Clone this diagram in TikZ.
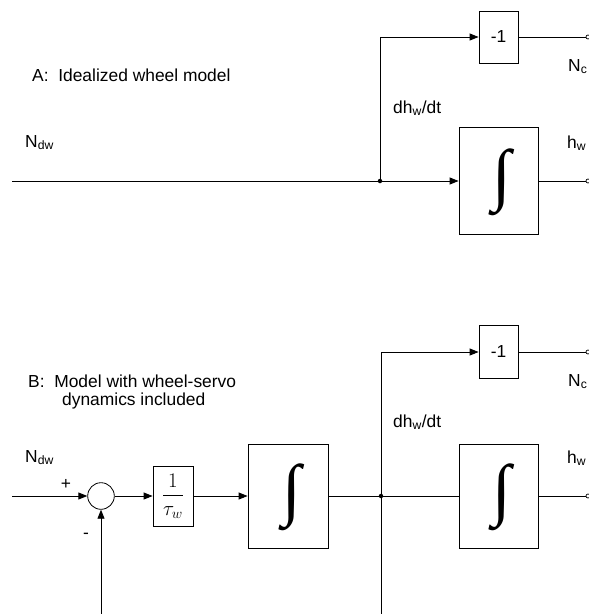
\documentclass[tikz,border=0pt]{standalone}
\usepackage{amsmath}
\usepackage{fontspec}
\setmainfont{Liberation Sans}
\newfontfamily\serifint{Liberation Serif}
\usetikzlibrary{arrows.meta}
\newcommand{\lsub}[1]{\textsubscript{#1}}
\newcommand{\intsym}{\resizebox*{!}{67pt}{\serifint ∫}}
\begin{document}
\begin{tikzpicture}[x=1pt,y=-1pt,
  every node/.style={font=\fontsize{17.4}{18}\selectfont},
  wire/.style={line width=0.9pt, draw=black},
  arr/.style={wire,-{Triangle[length=9pt,width=7pt]}},
  blockbox/.style={draw, line width=0.8pt, inner sep=0pt},
  dotnode/.style={circle, fill, inner sep=0pt, minimum size=4.5pt},
  portnode/.style={circle, draw, inner sep=0pt, minimum size=4pt, line width=0.7pt},
  sumnode/.style={circle, draw, inner sep=0pt, minimum size=26.6pt, line width=0.8pt},
  lbl/.style={anchor=base west, inner sep=0pt},
  intbox/.style={blockbox, text depth=0pt}
]
\useasboundingbox (0,0) rectangle (589,614);

% ---------- A ----------
\coordinate (inA) at (12,181);
\node[dotnode] (jA) at (380,181) {};
\node[intbox, minimum width=79pt, minimum height=107pt] (intA) at (498.5,181) {};
\node[inner sep=0pt] (intAs) at (502,497-315) {\intsym};
\node[blockbox, minimum width=39pt, minimum height=52pt] (negA) at (498.5,37) {-1};
\node[portnode] (ncA) at (588,37) {};
\node[portnode] (hwA) at (588,181) {};

\draw[wire] (inA) -- (jA);
\draw[arr] (jA) -- (intA.west);
\draw[arr] (jA) |- (negA.west);
\draw[wire] (negA.east) -- (ncA);
\draw[wire] (intA.east) -- (hwA);

\node[lbl] (titleA) at (32,81) {A:\ \ Idealized wheel model};
\node[lbl] (ndwA) at (25,147) {N\lsub{dw}};
\node[lbl] (dhA) at (393,113) {dh\lsub{w}/dt};
\node[lbl] (ncAl) at (568,71) {N\lsub{c}};
\node[lbl] (hwAl) at (567,148) {h\lsub{w}};

% ---------- B ----------
\coordinate (inB) at (12,496);
\coordinate (fbB) at (101,614);
\coordinate (botB) at (381,614);
\node[sumnode] (sum) at (101,496) {};
\node[blockbox, minimum width=40pt, minimum height=60pt, font=\fontsize{20}{22}\selectfont] (tau) at (173,496) {$\dfrac{1}{\tau_w}$};
\node[intbox, minimum width=80pt, minimum height=104pt] (intB1) at (288,496) {};
\node[inner sep=0pt] (intB1s) at (291.5,497) {\intsym};
\node[dotnode] (jB) at (381,496) {};
\node[intbox, minimum width=79pt, minimum height=104pt] (intB2) at (498.5,496) {};
\node[inner sep=0pt] (intB2s) at (502,497) {\intsym};
\node[blockbox, minimum width=39pt, minimum height=53pt] (negB) at (498.5,352) {-1};
\node[portnode] (ncB) at (588,352) {};
\node[portnode] (hwB) at (588,496) {};

\draw[arr] (inB) -- (sum.west);
\draw[arr] (fbB) -- (sum.south);
\draw[arr] (sum.east) -- (tau.west);
\draw[arr] (tau.east) -- (intB1.west);
\draw[wire] (intB1.east) -- (jB);
\draw[wire] (jB) -- (intB2.west);
\draw[wire] (botB) -- (jB);
\draw[arr] (jB) |- (negB.west);
\draw[wire] (negB.east) -- (ncB);
\draw[wire] (intB2.east) -- (hwB);

\node[lbl] (titleB1) at (28,387) {B:\ \ Model with wheel-servo};
\node[lbl] (titleB2) at (62,405) {dynamics included};
\node[lbl] (ndwB) at (25,462) {N\lsub{dw}};
\node (plus) at (66,484) {+};
\node (minus) at (86,536) {-};
\node[lbl] (dhB) at (393,427) {dh\lsub{w}/dt};
\node[lbl] (ncBl) at (568,386) {N\lsub{c}};
\node[lbl] (hwBl) at (567,463) {h\lsub{w}};
\end{tikzpicture}
\end{document}
